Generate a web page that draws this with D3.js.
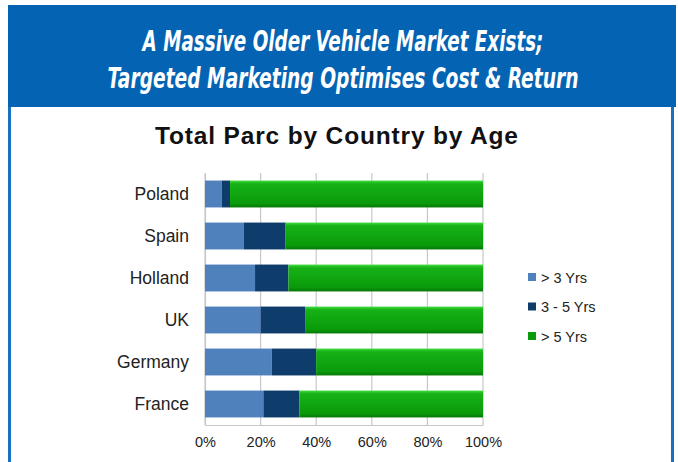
<!DOCTYPE html>
<html><head><meta charset="utf-8">
<script src="https://cdn.jsdelivr.net/npm/d3@7"></script>
<style>body{margin:0;background:#fff}svg{display:block}</style>
</head><body>
<script>
const categories = ["Poland","Spain","Holland","UK","Germany","France"];
const seriesNames = ["> 3 Yrs","3 - 5 Yrs","> 5 Yrs"];
const under3 = [6, 14, 18, 20, 24, 21];
const from3to5 = [3, 15, 12, 16, 16, 13];
const over5 = [91, 71, 70, 64, 60, 66];
const tickValues = [0, 0.2, 0.4, 0.6, 0.8, 1.0];
const colors = ["#4f81bd", "#0e3d6b", "#0a9a0a"];

const W = 678, H = 462;
const svg = d3.select("body").append("svg").attr("width", W).attr("height", H);
const defs = svg.append("defs");
const g1 = defs.append("linearGradient").attr("id","gGreen").attr("x1",0).attr("y1",0).attr("x2",0).attr("y2",1);
g1.append("stop").attr("offset","0").attr("stop-color","#44dc44");
g1.append("stop").attr("offset","0.12").attr("stop-color","#16b216");
g1.append("stop").attr("offset","0.85").attr("stop-color","#0a9a0a");
g1.append("stop").attr("offset","1").attr("stop-color","#067806");

// frame
svg.append("rect").attr("x",8).attr("y",5).attr("width",668).attr("height",102).attr("fill","#0563b3");
svg.append("rect").attr("x",8).attr("y",107).attr("width",3).attr("height",H-107).attr("fill","#1a70c0");
svg.append("rect").attr("x",671).attr("y",107).attr("width",3).attr("height",H-107).attr("fill","#1a70c0");

const hf = "'DejaVu Sans Condensed','Liberation Sans Narrow','Liberation Sans',sans-serif";
function headLine(txt, yb, targetW){
  const t = svg.append("text").attr("x",0).attr("y",0).attr("text-anchor","middle")
    .attr("fill","#fff").attr("font-family",hf).attr("font-weight","bold").attr("font-style","italic")
    .attr("font-size",29).text(txt);
  const w = t.node().getComputedTextLength();
  const s = targetW / w;
  t.attr("transform",`translate(343,${yb}) scale(${s},1)`);
}
headLine("A Massive Older Vehicle Market Exists;", 51, 401);
headLine("Targeted Marketing Optimises Cost & Return", 88, 471);

svg.append("text").attr("x",336.5).attr("y",144).attr("text-anchor","middle")
  .attr("font-family","'Liberation Sans',Arial,sans-serif").attr("font-weight","bold")
  .attr("font-size",24.5).attr("fill","#111").attr("textLength",363).attr("lengthAdjust","spacing")
  .text("Total Parc by Country by Age");

const x = d3.scaleLinear().domain([0,1]).range([205,483]);
const y = d3.scaleBand().domain(categories).range([173,425]).paddingInner(0.36).paddingOuter(0.18);

// grid
svg.append("g").selectAll("line").data(tickValues).join("line")
  .attr("x1",d=>x(d)).attr("x2",d=>x(d)).attr("y1",173).attr("y2",425)
  .attr("stroke","#c8c8c8").attr("stroke-width",1.2);

// axis
const xAxis = svg.append("g").attr("transform","translate(0,425)")
  .call(d3.axisBottom(x).tickValues(tickValues).tickFormat(d3.format(".0%")).tickSize(0).tickPadding(12));
xAxis.select(".domain").attr("stroke","#c8c8c8").attr("stroke-width",1.2);
xAxis.selectAll("text").attr("font-family","'Liberation Sans',Arial,sans-serif").attr("font-size",14.5).attr("fill","#222");

const yAxis = svg.append("g").attr("transform","translate(205,0)")
  .call(d3.axisLeft(y).tickSize(0).tickPadding(16));
yAxis.select(".domain").attr("stroke","#c8c8c8").attr("stroke-width",1.2);
yAxis.selectAll("text").attr("font-family","'Liberation Sans',Arial,sans-serif").attr("font-size",17.5).attr("fill","#222");

const rows = categories.map((c,i)=>({c, v:[under3[i]/100, from3to5[i]/100, over5[i]/100]}));
const stacked = d3.stack().keys([0,1,2]).value((d,k)=>d.v[k])(rows);
const fills = [colors[0], colors[1], "url(#gGreen)"];
stacked.forEach((s,k)=>{
  svg.append("g").selectAll("rect").data(s).join("rect")
    .attr("x",d=>x(d[0])).attr("width",d=>x(d[1])-x(d[0]))
    .attr("y",d=>y(d.data.c)).attr("height",y.bandwidth())
    .attr("fill",fills[k]);
});

// legend
const lg = svg.append("g");
seriesNames.forEach((n,i)=>{
  const yy = 279 + i*29.5;
  lg.append("rect").attr("x",528).attr("y",yy-6).attr("width",8).attr("height",8).attr("fill",colors[i]);
  lg.append("text").attr("x",541).attr("y",yy+3.5).attr("font-family","'Liberation Sans',Arial,sans-serif")
    .attr("font-size",14.5).attr("fill","#222").text(n);
});
</script>
</body></html>
